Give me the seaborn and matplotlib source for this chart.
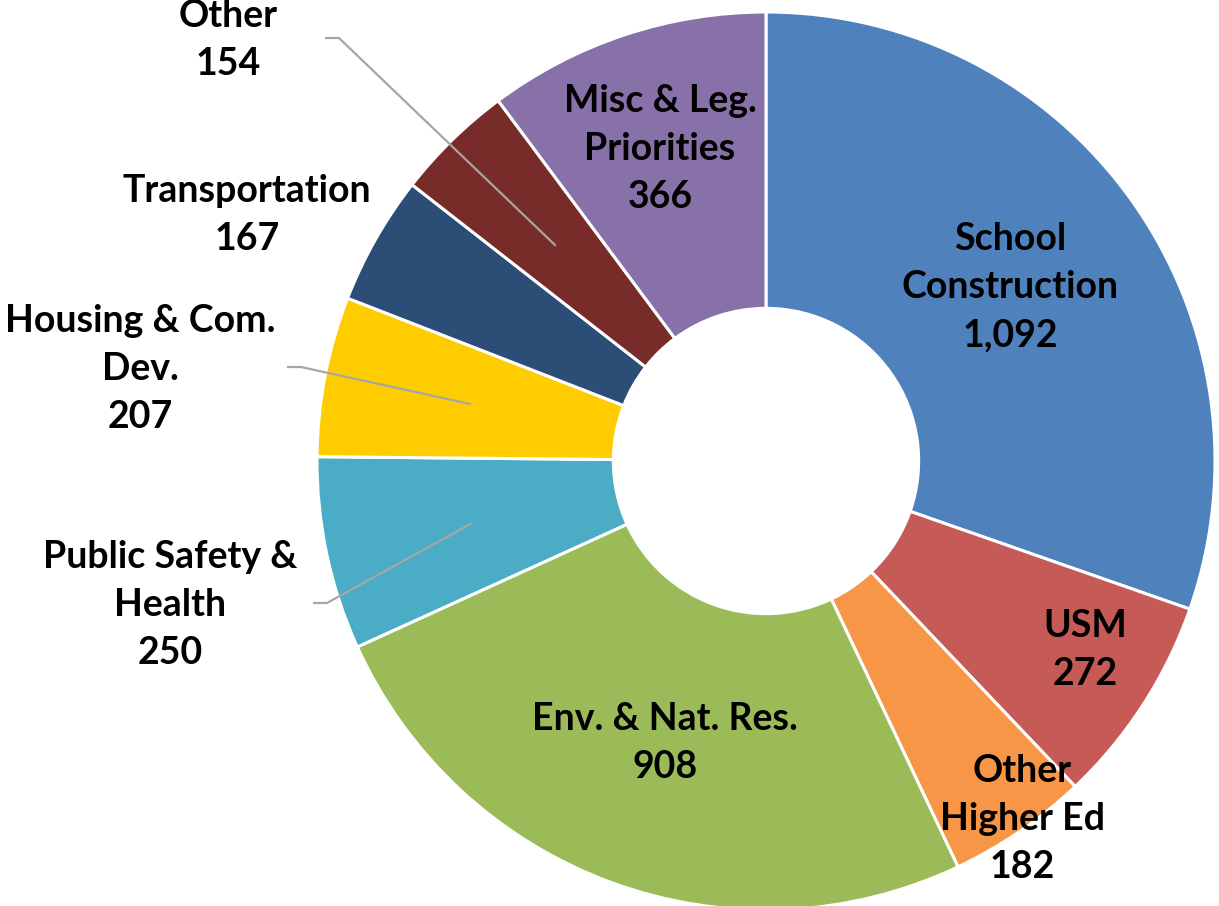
"""Donut chart of capital budget by category."""

import matplotlib
matplotlib.use("Agg")

import matplotlib.pyplot as plt
import numpy as np
import seaborn as sns

categories = [
    "School\nConstruction",
    "USM",
    "Other\nHigher Ed",
    "Env. & Nat. Res.",
    "Public Safety &\nHealth",
    "Housing & Com.\nDev.",
    "Transportation",
    "Other",
    "Misc & Leg.\nPriorities",
]
values = [1092, 272, 182, 908, 250, 207, 167, 154, 366]
colors = [
    "#4F81BD", "#C55A57", "#F79646", "#9BBB59", "#4BACC6",
    "#FFCC00", "#2C4D75", "#772C2A", "#8870A8",
]

sns.set_theme(style="white")
plt.rcParams["font.family"] = ["Lato", "DejaVu Sans"]

W, H = 1219, 906
fig = plt.figure(figsize=(W / 100, H / 100), dpi=100)

# centro del donut en pixeles (766, 461), radio 449
cx, cy, R = 766, 461, 449
ax = fig.add_axes([(cx - R) / W, (H - cy - R) / H, 2 * R / W, 2 * R / H])

wedges, _ = ax.pie(
    values,
    colors=colors,
    startangle=90,
    counterclock=False,
    radius=1.0,
    wedgeprops=dict(width=0.66, edgecolor="white", linewidth=2.2),
)
ax.set_xlim(-1, 1)
ax.set_ylim(-1, 1)
ax.set_aspect("auto")
ax.axis("off")


def px(x, y):
    """Pixel de la figura -> coordenadas de datos del eje."""
    return (x - cx) / R, (cy - y) / R


# posiciones de las etiquetas (layout, en pixeles)
label_pos = [
    (1010, 287), (1085, 650), (1022, 819), (665, 743),
    (170, 605), (140, 369), (247, 215), (228, 40), (660, 149),
]
fmt_vals = [f"{v:,}" for v in values]
for name, val, (lx, ly) in zip(categories, fmt_vals, label_pos):
    x, y = px(lx, ly)
    ax.text(x, y, f"{name}\n{val}", ha="center", va="center",
            fontsize=27, fontweight="bold", color="black",
            linespacing=1.5)

# lineas guia para las etiquetas exteriores
angles = []
for w in wedges:
    angles.append(np.deg2rad((w.theta1 + w.theta2) / 2))

leaders = {4: (313, 603), 5: (287, 367), 7: (325, 38)}
for idx, (sx, sy) in leaders.items():
    x0, y0 = px(sx, sy)
    x1 = x0 + 14 / R
    r_in = 0.67
    ex, ey = r_in * np.cos(angles[idx]), r_in * np.sin(angles[idx])
    ax.plot([x0, x1, ex], [y0, y0, ey], color="#A6A6A6", lw=1.6,
            solid_capstyle="butt", clip_on=False)

fig.savefig("out.png", dpi=100)
plt.close(fig)
